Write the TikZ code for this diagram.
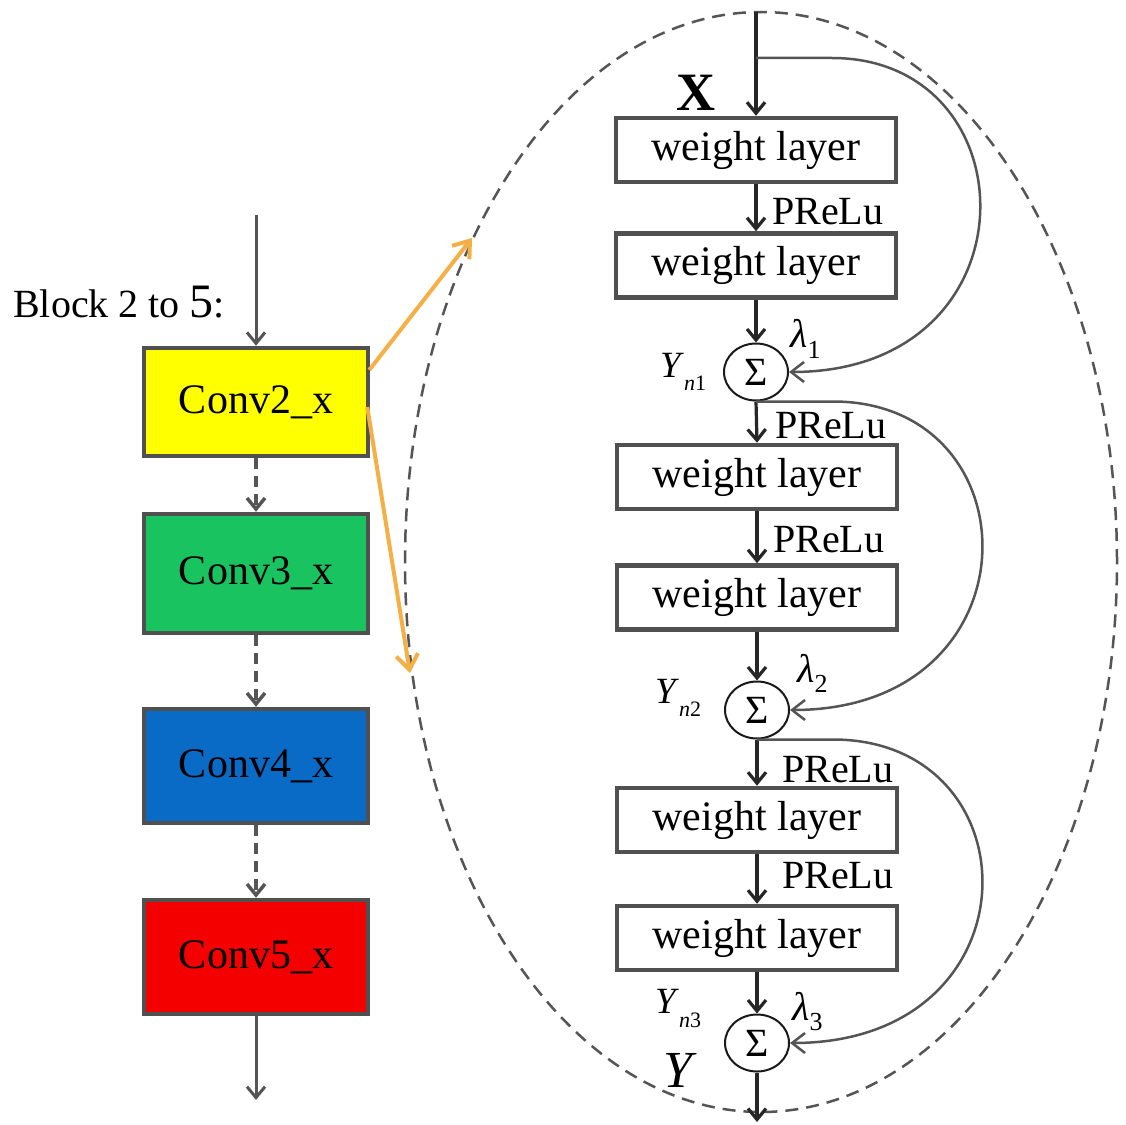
\documentclass[tikz,border=0pt]{standalone}
\usepackage{fontspec}
\setmainfont{Liberation Serif}
\usetikzlibrary{arrows.meta,calc,shapes.geometric}
\definecolor{boxgray}{HTML}{505050}
\definecolor{linegray}{HTML}{555555}
\definecolor{orangec}{HTML}{F4B046}
\definecolor{cyellow}{HTML}{FFFF00}
\definecolor{cgreen}{HTML}{19C35F}
\definecolor{cblue}{HTML}{0A6BC6}
\definecolor{cred}{HTML}{F40000}
\begin{document}
\begin{tikzpicture}[x=1pt,y=-1pt,
  conv/.style={draw=boxgray, line width=4.5pt, minimum width=224pt, inner sep=0pt, font=\fontsize{42}{48}\selectfont},
  wl/.style={draw=boxgray, line width=4.5pt, fill=white, minimum width=280pt, minimum height=64pt, inner sep=0pt, font=\fontsize{42}{48}\selectfont},
  sig/.style={ellipse, draw=black!90, line width=2pt, minimum width=64pt, minimum height=57pt, inner sep=0pt, font=\fontsize{40}{40}\selectfont},
  garr/.style={draw=linegray, line width=3pt, -{Straight Barb[length=11pt,width=18pt]}},
  barr/.style={draw=black!85, line width=3.2pt, -{Straight Barb[length=11pt,width=18pt]}},
  skiparr/.style={draw=linegray, line width=2.5pt, -{Straight Barb[length=13pt,width=20pt]}},
  oarr/.style={draw=orangec, line width=4pt, -{Straight Barb[length=15pt,width=22pt]}},
  lab/.style={inner sep=0pt, font=\fontsize{40}{40}\selectfont},
]
\fill[white] (0,0) rectangle (1126,1124);
\useasboundingbox (0,0) rectangle (1126,1124);

% dashed zoom ellipse
\node[ellipse, draw=linegray, line width=2.5pt, dash pattern=on 13pt off 8pt, minimum width=712pt, minimum height=1100pt, inner sep=0pt] (zoom) at (761,562) {};

% left column
\node[conv, fill=cyellow, minimum height=108pt] (c2) at (256,402) {Conv2\_x};
\node[conv, fill=cgreen, minimum height=119pt] (c3) at (256,573.5) {Conv3\_x};
\node[conv, fill=cblue, minimum height=114pt] (c4) at (256,766) {Conv4\_x};
\node[conv, fill=cred, minimum height=114pt] (c5) at (256,957) {Conv5\_x};
\node[lab, anchor=base west] (blk) at (13,317) {Block 2 to {\fontsize{48}{48}\selectfont 5}:};
\coordinate (lin) at (256,215);
\coordinate (lout) at (256,1100);
\draw[garr] (lin) -- (c2.north);
\draw[garr, line width=3.5pt, dash pattern=on 11pt off 7pt] (c2.south) -- (c3.north);
\draw[garr, line width=3.5pt, dash pattern=on 11pt off 7pt] (c3.south) -- (c4.north);
\draw[garr, line width=3.5pt, dash pattern=on 11pt off 7pt] (c4.south) -- (c5.north);
\draw[garr] (c5.south) -- (lout);

% orange zoom arrows
\coordinate (oe1) at (472,238);
\coordinate (oe2) at (410,673);
\draw[oarr] ($(c2.east)+(-1,-32)$) -- (oe1);
\draw[oarr] ($(c2.east)+(-3,5)$) -- (oe2);

% right column
\node[wl] (w1) at (756,150) {weight layer};
\node[wl] (w2) at (756,265.5) {weight layer};
\node[sig] (s1) at (756,372) {Σ};
\node[wl] (w3) at (757,477) {weight layer};
\node[wl] (w4) at (757,597.5) {weight layer};
\node[sig] (s2) at (757,710) {Σ};
\node[wl] (w5) at (757,820) {weight layer};
\node[wl] (w6) at (757,938) {weight layer};
\node[sig] (s3) at (757,1043) {Σ};

\coordinate (xin) at (756,12);
\coordinate (b1) at (756,58);
\coordinate (yout) at (757,1122);

\draw[barr] (xin) -- (w1.north);
\draw[barr] (w1.south) -- (w2.north);
\draw[barr] (w2.south) -- (s1.north);
\draw[barr] (s1.south) -- (w3.north);
\draw[barr] (w3.south) -- (w4.north);
\draw[barr] (w4.south) -- (s2.north);
\draw[barr] (s2.south) -- (w5.north);
\draw[barr] (w5.south) -- (w6.north);
\draw[barr] (w6.south) -- (s3.north);
\draw[barr] (s3.south) -- (yout);

% skip connections
\draw[skiparr] (b1) -- ++(76,0) .. controls +(201,0) and +(250,0) .. (s1.east);
\draw[skiparr] (s1.south) -- ++(77,0) .. controls +(204,0) and +(250,0) .. (s2.east);
\draw[skiparr] (s2.south) -- ++(76,0) .. controls +(204,0) and +(250,0) .. (s3.east);

% labels
\node[lab, anchor=base west] (p1) at (772,224) {PReLu};
\node[lab, anchor=base west] (p2) at (775,438) {PReLu};
\node[lab, anchor=base west] (p3) at (773,552) {PReLu};
\node[lab, anchor=base west] (p4) at (782,782) {PReLu};
\node[lab, anchor=base west] (p5) at (782,888) {PReLu};

\node[inner sep=0pt, font=\fontsize{54}{54}\selectfont\bfseries] (xl) at (696,93) {X};
\node[inner sep=0pt, font=\fontsize{52}{52}\selectfont\itshape] (yl) at (678,1070) {Y};

\node[inner sep=0pt, anchor=base west, font=\fontsize{37}{37}\selectfont] (yn1) at (660,377) {\textit{Y}\raisebox{-13pt}{\fontsize{22}{22}\selectfont\textit{n}1}};
\node[inner sep=0pt, anchor=base west, font=\fontsize{37}{37}\selectfont] (yn2) at (655,703) {\textit{Y}\raisebox{-13pt}{\fontsize{22}{22}\selectfont\textit{n}2}};
\node[inner sep=0pt, anchor=base west, font=\fontsize{37}{37}\selectfont] (yn3) at (655,1013) {\textit{Y}\raisebox{-14pt}{\fontsize{22}{22}\selectfont\textit{n}3}};

\node[inner sep=0pt, anchor=base west, font=\fontsize{40}{40}\selectfont] (l1) at (790,347) {\textit{λ}\raisebox{-11pt}{\fontsize{26}{26}\selectfont 1}};
\node[inner sep=0pt, anchor=base west, font=\fontsize{40}{40}\selectfont] (l2) at (797,682) {\textit{λ}\raisebox{-10pt}{\fontsize{26}{26}\selectfont 2}};
\node[inner sep=0pt, anchor=base west, font=\fontsize{40}{40}\selectfont] (l3) at (792,1020) {\textit{λ}\raisebox{-10pt}{\fontsize{26}{26}\selectfont 3}};
\end{tikzpicture}
\end{document}
